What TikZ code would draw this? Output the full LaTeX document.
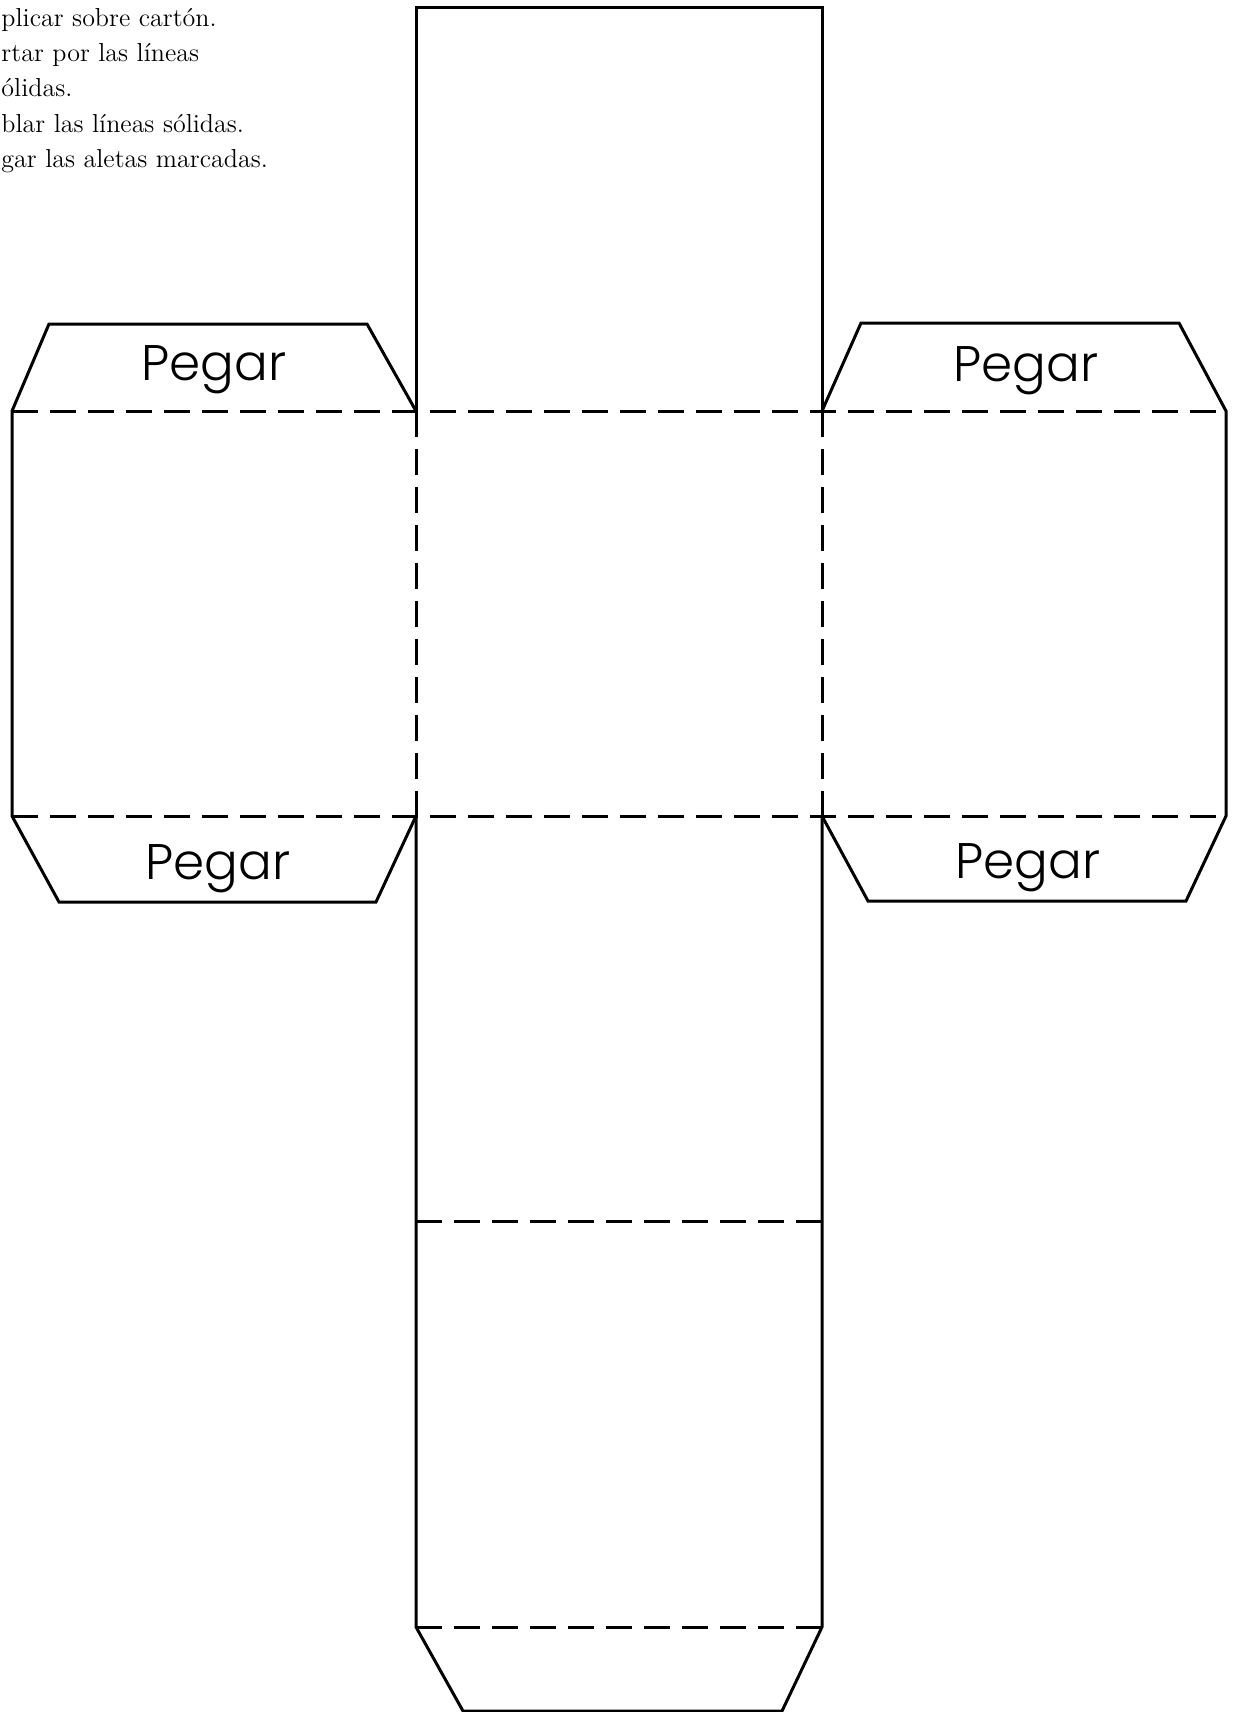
\documentclass[tikz,border=0pt]{standalone}
\usepackage{fontspec}
\IfFontExistsTF{Poppins Light}{\setsansfont{Poppins Light}}{\setsansfont{Poppins}}

\tikzset{
	fold/.style = {dash pattern = on 13pt off 6pt},
	tablabel/.style = {anchor = base, font = \sffamily\fontsize{25}{25}\selectfont},
	steptext/.style = {anchor = base west, inner sep = 0pt, font = \fontsize{13}{15}\selectfont}
}

\begin{document}
\begin{tikzpicture}[x = 0.5pt, y = -0.5pt, line width = 1.5pt, line join = miter]
	\useasboundingbox (0, 0) rectangle (1233, 1712);
	% instructions
	\node[steptext] (paso1) at (0, 27) {plicar sobre cartón.};
	\node[steptext] (paso2) at (0, 62) {rtar por las líneas};
	\node[steptext] (paso3) at (0, 97) {ólidas.};
	\node[steptext] (paso4) at (0, 133) {blar las líneas sólidas.};
	\node[steptext] (paso5) at (0, 168) {gar las aletas marcadas.};
	% central strip
	\draw (416, 411) -- (416, 8) -- (822, 8) -- (822, 411);
	\draw (416, 816) -- (416, 1627) -- (463, 1711) -- (782, 1711) -- (822, 1627) -- (822, 816);
	% side panels and tabs
	\draw (416, 411) -- (367, 324) -- (49, 324) -- (12, 411) -- (12, 816) -- (59, 902) -- (376, 902) -- (416, 816);
	\draw (822, 411) -- (861, 323) -- (1179, 323) -- (1226, 411) -- (1226, 816) -- (1186, 901) -- (868, 901) -- (822, 816);
	% fold lines
	\draw [fold] (12, 411) -- (1226, 411);
	\draw [fold] (12, 816) -- (1226, 816);
	\draw [fold] (416, 411) -- (416, 816);
	\draw [fold] (822, 411) -- (822, 816);
	\draw [fold] (416, 1221) -- (822, 1221);
	\draw [fold] (416, 1627) -- (822, 1627);
	% tab labels
	\node[tablabel] (pegar1) at (214, 380) {Pegar};
	\node[tablabel] (pegar2) at (1026, 381) {Pegar};
	\node[tablabel] (pegar3) at (218, 879) {Pegar};
	\node[tablabel] (pegar4) at (1028, 878) {Pegar};
\end{tikzpicture}
\end{document}
